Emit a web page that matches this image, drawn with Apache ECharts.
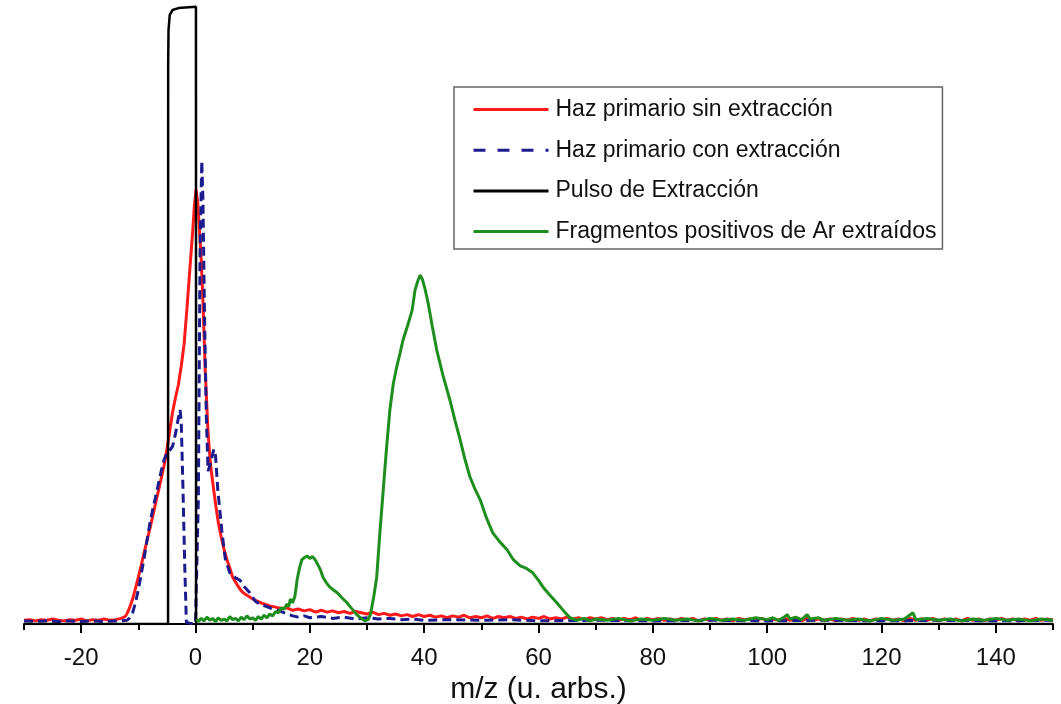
<!DOCTYPE html>
<html>
<head>
<meta charset="utf-8">
<script src="https://cdn.jsdelivr.net/npm/echarts@6/dist/echarts.min.js"></script>
<style>
html,body{margin:0;padding:0;background:#fff;}
#chart{width:1061px;height:704px;}
</style>
</head>
<body>
<div id="chart"></div>
<script>
// ---- DATA ----
const seriesNames = ['Haz primario sin extracción', 'Haz primario con extracción', 'Pulso de Extracción', 'Fragmentos positivos de Ar extraídos'];
const majorTicks = [-20, 0, 20, 40, 60, 80, 100, 120, 140];
const minorTicks = [-30, -10, 10, 30, 50, 70, 90, 110, 130, 150];
const xTitle = 'm/z (u. arbs.)';

const redData = [
[-30,0.6],[-29,0.7],[-28,0.5],[-27,0.7],[-26,0.6],[-25,0.8],[-24,0.6],[-23,0.5],[-22,0.7],[-21,0.6],[-20,0.8],[-19,0.5],[-18,0.7],[-17,0.6],[-16,0.8],[-15,0.6],[-14,0.7],
[-13,0.9],[-12.3,1.2],[-12,1.6],[-11.5,2.7],[-11,4.0],[-10.5,5.7],[-10,7.5],[-9.5,9.4],[-9,11.4],[-8.5,13.3],[-8,15.2],[-7.5,17.2],[-7,19.3],[-6.5,21.3],[-6,23.3],[-5.5,25.4],[-5,28.0],[-4.5,31.0],[-4,34.0],[-3.5,36.3],[-3,38.3],[-2.5,41.3],[-2,44.8],[-1.5,50.5],[-1,56.7],[-0.5,62.8],[-0.2,67.0],[0.1,69.6],[0.4,67.5],[0.7,63.0],[1.0,58.3],[1.3,51.9],[1.7,40.7],[2.2,30.6],[2.6,25.8],[3.0,22.8],[3.5,19.3],[4.0,16.2],[4.5,13.9],[5.0,11.9],[5.5,10.3],[6,9.0],[6.5,7.5],[7,6.7],[7.5,6.0],[8,5.3],[8.5,4.9],[9,4.6],[10,4.0],[11,3.6],[12,3.2],[13,2.9],[14,2.7],[15,2.5],[16,2.6],[17,2.2],[18,2.4],[19,2.1],[20,2.3],
[21,1.9],[22,2.2],[23,1.9],[24,2.1],[25,1.8],[26,2.0],[27,1.7],[28,2.0],[29,1.8],[30,1.6],[31,1.9],[32,1.5],[33,1.7],[34,1.4],[35,1.6],[36,1.3],[37,1.5],[38,1.2],[39,1.5],[40,1.2],[41,1.4],[42,1.1],[43,1.3],[44,1.0],[45,1.3],[46,1.1],[47,1.4],[48,1.0],[49,1.2],[50,1.0],[51,1.3],[52,0.9],[53,1.2],[54,1.0],[55,1.2],[56,0.9],[57,1.1],[58,0.8],[59,1.1],[60,0.9],[61,1.2],[62,0.8],[63,1.0],[64,0.8],[65,1.1],[66,0.8],[67,1.0],[68,0.7],[69,1.0],[70,0.8],
[71,1.0],[72,0.7],[73,0.9],[74,0.6],[75,0.9],[76,0.7],[77,1.0],[78,0.6],[79,0.9],[80,0.7],[81,0.9],[82,0.6],[83,0.8],[84,0.6],[85,0.9],[86,0.7],[87,0.9],[88,0.5],[89,0.8],[90,0.6],[91,0.9],[92,0.6],[93,0.8],[94,0.5],[95,0.9],[96,0.7],[97,0.8],[98,0.5],[99,0.9],[100,0.6],[101,0.8],[102,0.6],[103,0.9],[104,0.6],[105,0.8],[106,0.5],[107,0.9],[108,0.6],[109,0.8],[110,0.6],
[111,0.8],[112,0.5],[113,0.8],[114,0.6],[115,0.9],[116,0.6],[117,0.8],[118,0.5],[119,0.8],[120,0.6],[121,0.9],[122,0.6],[123,0.8],[124,0.5],[125,0.9],[126,0.6],[127,0.8],[128,0.6],[129,0.9],[130,0.5],[131,0.8],[132,0.6],[133,0.8],[134,0.5],[135,0.9],[136,0.6],[137,0.8],[138,0.5],[139,0.8],[140,0.6],[141,0.9],[142,0.6],[143,0.8],[144,0.5],[145,0.8],[146,0.6],[147,0.9],[148,0.6],[149,0.8],[150,0.6]
];

const blueData = [
[-30,0.5],[-28,0.4],[-26,0.5],[-24,0.4],[-22,0.5],[-20,0.4],[-18,0.5],[-16,0.4],[-14,0.5],[-13,0.5],[-12,0.6],[-11.5,1.0],[-11,1.8],[-10.5,3.4],[-10,5.5],[-9.5,8.0],[-9,10.5],[-8.5,13.3],[-8,16.0],[-7.5,18.3],[-7,20.3],[-6.5,22.4],[-6,24.5],[-5.5,26.3],[-5,27.4],[-4.5,27.8],[-4,28.5],[-3.5,30.5],[-3,33.0],[-2.7,34.3],[-2.5,32.5],[-2.2,22],[-1.9,10],[-1.6,0.3],[-1,0.1],[0,0.1],[0.3,0.3],[0.5,20],[0.8,60],[1.1,74.2],[1.3,68],[1.6,48],[1.9,33],[2.2,24.5],[2.7,26],[3.2,28.0],[3.5,27],[3.9,21.5],[4.6,15],[5.2,10.5],[6.0,8.2],[7,7.4],[7.8,7.0],[8.5,6.0],[9.5,5.0],[10.5,3.6],[11.5,3.1],[13,2.6],[14,2.3],[15,2.0],[16,1.6],[17,1.3],[18,1.1],[19,1.3],[20,1.0],[22,1.2],[24,0.9],[26,1.1],[28,0.8],[30,1.0],[32,0.8],[34,0.9],[36,0.7],[38,0.8],[40,0.6],[45,0.7],[50,0.6],[55,0.7],[60,0.5],[70,0.6],[80,0.5],[90,0.6],[100,0.5],[110,0.6],[120,0.5],[130,0.6],[140,0.5],[150,0.6]
];

const blackData = [
[-30,0],[-4.8,0],[-4.78,90],[-4.72,95.2],[-4.5,97.6],[-4.0,98.4],[-3,98.7],[0.08,98.9],[0.1,0],[150,0]
];

const greenData = [
[0.2,0.8],[0.5,0.4],[1,0.9],[1.5,0.5],[2,1.1],[2.5,0.6],[3,0.9],[3.5,0.4],[4,1.0],[4.5,0.6],[5,0.8],[5.5,0.5],[6,1.2],[6.5,0.7],[7,0.9],[7.5,0.5],[8,1.1],[8.5,0.7],[9,1.3],[9.5,0.8],[10,1.0],[10.5,0.6],[11,1.2],[11.5,0.8],[12,1.4],[12.5,1.0],[13,1.6],[13.5,1.3],[14,2.0],[14.5,1.8],[15,2.6],[15.5,2.4],[16,3.2],[16.3,2.8],[16.6,4.0],[17,3.4],[17.4,4.5],[17.8,7.2],[18.2,9.0],[18.6,10.3],[19,10.6],[19.5,10.9],[20,10.5],[20.5,10.8],[21,10.2],[21.3,9.9],[21.8,8.8],[22.3,7.5],[22.9,6.6],[23.5,5.9],[24.2,5.4],[24.8,5.0],[25.6,4.2],[26.5,3.4],[27.3,2.5],[28.2,1.5],[29,0.9],[29.6,0.5],[30.2,0.7],[30.6,1.5],[31.2,4.5],[31.7,7.5],[32.2,14],[32.8,21.0],[33.4,28],[34.0,34.3],[34.6,38.5],[35.2,41.2],[35.8,43.5],[36.3,45.5],[37.1,47.8],[37.9,50.3],[38.4,53.5],[38.9,55.0],[39.3,55.9],[39.7,55.2],[40.2,53.5],[40.7,51.4],[41.4,47.8],[42.2,43.9],[43.3,39.8],[44.5,35.9],[45.4,32.6],[46.3,29.5],[47.1,26.5],[48.0,23.6],[48.9,21.6],[49.8,19.9],[50.9,17.0],[52.0,14.6],[53.2,13.2],[54.5,11.9],[55.6,10.3],[56.8,9.3],[57.9,8.9],[59.0,8.2],[60.0,7.0],[60.8,5.9],[62,4.6],[63.2,3.4],[64.4,2.1],[65.5,1.0],[66.7,0.6],[68,0.9],[69,0.5],[70,0.8],
[72,0.6],[74,0.9],[76,0.5],[78,0.8],[80,0.6],[82,0.9],[84,0.6],[86,0.8],[88,0.5],[90,0.9],[92,0.6],[94,0.8],[96,0.6],[98,1.0],[100,0.7],[101,1.0],[102,0.6],[103,1.1],[103.5,1.5],[104,0.8],[105,1.1],[106,0.7],[107,1.5],[107.5,0.8],[109,1.0],[110,0.6],[112,0.9],[114,0.6],[116,0.8],[118,0.5],[120,0.9],[122,0.6],[124,0.8],[125.5,1.8],[126,0.7],[128,0.9],[130,0.6],[132,0.8],[134,0.5],[136,0.8],[138,0.6],[140,0.9],[142,0.6],[144,0.8],[146,0.5],[148,0.8],[150,0.6]
];

// ---- CHART ----
const FONT = 'Liberation Sans, Arial, sans-serif';
const chart = echarts.init(document.getElementById('chart'), null, {renderer: 'canvas'});
const axisCommon = {
  type: 'value', min: -30, max: 150, position: 'bottom',
  splitLine: {show: false}
};
chart.setOption({
  animation: false,
  backgroundColor: '#fff',
  grid: {left: 24, right: 8, top: 0, bottom: 80, outerBoundsMode: 'none'},
  legend: {
    orient: 'vertical', left: 454, top: 87,
    padding: [11, 6, 6, 18],
    itemWidth: 75, itemHeight: 22, itemGap: 17.7,
    borderColor: '#666', borderWidth: 1.5,
    itemStyle: {opacity: 0},
    lineStyle: {width: 3},
    textStyle: {fontSize: 23, fontFamily: FONT, color: '#111', padding: [0, 0, 0, 2]},
    data: [
      {name: seriesNames[0]},
      {name: seriesNames[1], lineStyle: {type: [12, 12], width: 3}},
      {name: seriesNames[2]},
      {name: seriesNames[3]}
    ]
  },
  xAxis: [
    Object.assign({}, axisCommon, {
      axisLine: {lineStyle: {color: '#000', width: 2}},
      axisTick: {customValues: majorTicks, length: 9, lineStyle: {color: '#000', width: 2}},
      axisLabel: {customValues: majorTicks, fontSize: 24, margin: 22, color: '#111', fontFamily: FONT},
      name: xTitle, nameLocation: 'middle', nameGap: 49,
      nameTextStyle: {fontSize: 30, color: '#111', fontFamily: FONT}
    }),
    Object.assign({}, axisCommon, {
      axisLine: {show: false},
      axisTick: {customValues: minorTicks, length: 6, lineStyle: {color: '#000', width: 2}},
      axisLabel: {show: false}
    })
  ],
  yAxis: {type: 'value', min: 0, max: 100, show: false},
  series: [
    {name: seriesNames[0], type: 'line', data: redData, symbol: 'none', xAxisIndex: 0,
     lineStyle: {color: '#ff1a1a', width: 3}, itemStyle: {color: '#ff1a1a'}},
    {name: seriesNames[1], type: 'line', data: blueData, symbol: 'none', xAxisIndex: 0,
     lineStyle: {color: '#1c1c8f', width: 3, type: [9, 5]}, itemStyle: {color: '#1c1c8f'}},
    {name: seriesNames[2], type: 'line', data: blackData, symbol: 'none', xAxisIndex: 0,
     lineStyle: {color: '#000', width: 2.5}, itemStyle: {color: '#000'}},
    {name: seriesNames[3], type: 'line', data: greenData, symbol: 'none', xAxisIndex: 0,
     lineStyle: {color: '#1e8f1e', width: 3}, itemStyle: {color: '#1e8f1e'}}
  ]
});
</script>
</body>
</html>
